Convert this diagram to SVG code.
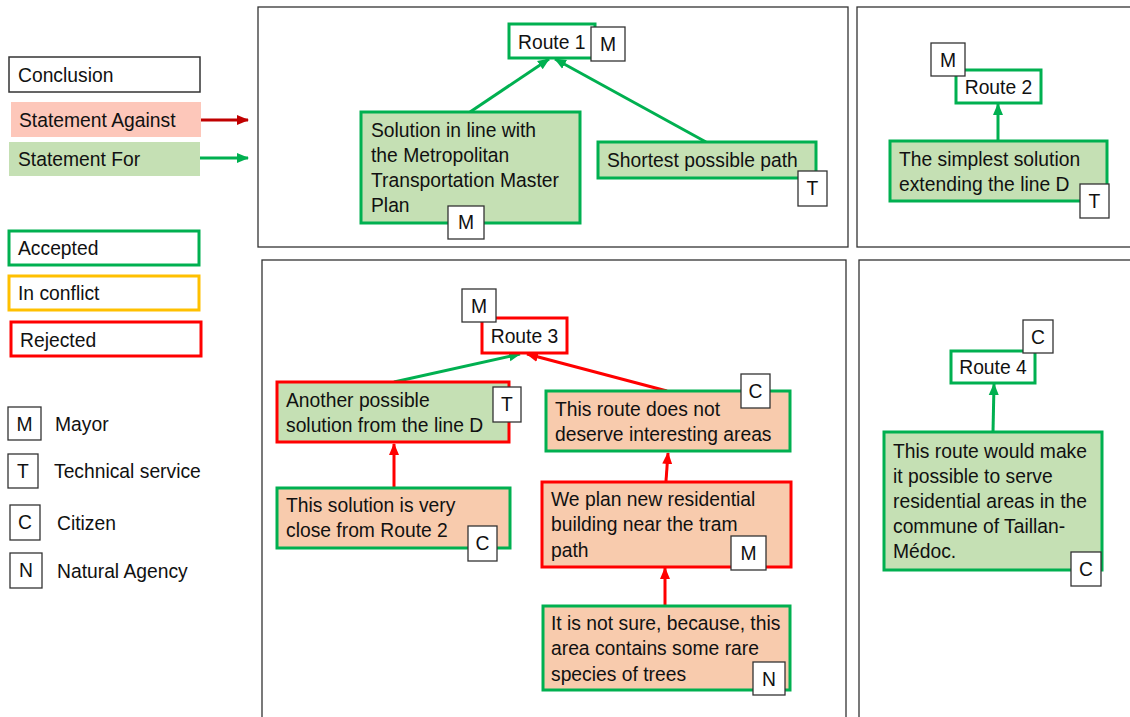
<svg xmlns="http://www.w3.org/2000/svg" width="1130" height="717" viewBox="0 0 1130 717">
<defs>
<style>
text{font-family:"Liberation Sans",Arial,sans-serif;font-size:19.3px;fill:#111}
.panel{fill:#fff;stroke:#333;stroke-width:1.3}
.concl{fill:#fff;stroke-width:3}
.acc{stroke:#00B050}
.rej{stroke:#FF0000}
.conf{stroke:#FFC000}
.for{fill:#C5E0B4}
.ag{fill:#F8CBAD}
.badge{fill:#fff;stroke:#333;stroke-width:1.3}
.bt{text-anchor:middle;dominant-baseline:central}
.mid{dominant-baseline:central}
.eg{stroke:#00B050;stroke-width:3;fill:none}
.er{stroke:#FF0000;stroke-width:3;fill:none}
</style>
<marker id="ag" markerUnits="userSpaceOnUse" markerWidth="12" markerHeight="12" viewBox="0 0 12 12" refX="11" refY="6" orient="auto"><path d="M0,1 L12,6 L0,11 Z" fill="#00B050"/></marker>
<marker id="ar" markerUnits="userSpaceOnUse" markerWidth="12" markerHeight="12" viewBox="0 0 12 12" refX="11" refY="6" orient="auto"><path d="M0,1 L12,6 L0,11 Z" fill="#FF0000"/></marker>
<marker id="adr" markerUnits="userSpaceOnUse" markerWidth="12" markerHeight="12" viewBox="0 0 12 12" refX="11" refY="6" orient="auto"><path d="M0,1 L12,6 L0,11 Z" fill="#C00000"/></marker>
</defs>
<rect width="1130" height="717" fill="#fff"/>

<!-- panels -->
<rect class="panel" x="258" y="7" width="590" height="240"/>
<rect class="panel" x="857" y="7" width="280" height="240"/>
<rect class="panel" x="262" y="260" width="584" height="470"/>
<rect class="panel" x="859" y="260" width="280" height="470"/>

<!-- legend -->
<g id="legend-conclusion"><rect x="9" y="57" width="191" height="35" fill="#fff" stroke="#333" stroke-width="1.5"/><text x="18" y="75" class="mid">Conclusion</text></g>
<g id="legend-against"><rect x="11" y="102" width="190" height="35" fill="#FDC7BA"/><text x="19" y="120" class="mid">Statement Against</text></g>
<g id="legend-for"><rect x="9" y="142" width="191" height="34" fill="#C5E0B4"/><text x="18" y="159" class="mid">Statement For</text></g>
<g id="legend-accepted"><rect x="9" y="231" width="190" height="34" class="concl acc"/><text x="18" y="248" class="mid">Accepted</text></g>
<g id="legend-conflict"><rect x="9" y="276" width="190" height="34" class="concl conf"/><text x="18" y="293" class="mid">In conflict</text></g>
<g id="legend-rejected"><rect x="11" y="322" width="190" height="34" class="concl rej"/><text x="20" y="340" class="mid">Rejected</text></g>
<g id="legend-mayor"><rect class="badge" x="8" y="407" width="33" height="33"/><text x="24.5" y="424" class="bt">M</text><text x="55" y="424" class="mid">Mayor</text></g>
<g id="legend-tech"><rect class="badge" x="8" y="454" width="30" height="34"/><text x="23" y="471" class="bt">T</text><text x="54" y="471" class="mid">Technical service</text></g>
<g id="legend-citizen"><rect class="badge" x="10" y="505" width="30" height="35"/><text x="25" y="522.5" class="bt">C</text><text x="57" y="523" class="mid">Citizen</text></g>
<g id="legend-natural"><rect class="badge" x="10" y="553" width="32" height="35"/><text x="26" y="570.5" class="bt">N</text><text x="57" y="571" class="mid">Natural Agency</text></g>

<!-- connectors -->
<g id="connectors">
<line x1="201" y1="120" x2="248" y2="120" stroke="#C00000" stroke-width="3" marker-end="url(#adr)"/>
<line x1="200" y1="158" x2="248" y2="158" class="eg" marker-end="url(#ag)"/>
<line x1="470" y1="112" x2="549" y2="59" class="eg" marker-end="url(#ag)"/>
<line x1="706" y1="142" x2="555" y2="59" class="eg" marker-end="url(#ag)"/>
<line x1="998" y1="141" x2="998" y2="104" class="eg" marker-end="url(#ag)"/>
<line x1="394" y1="382" x2="520" y2="354" class="eg" marker-end="url(#ag)"/>
<line x1="667" y1="391" x2="527" y2="354" class="er" marker-end="url(#ar)"/>
<line x1="394" y1="487" x2="394" y2="444" class="er" marker-end="url(#ar)"/>
<line x1="666" y1="481" x2="668" y2="453" class="er" marker-end="url(#ar)"/>
<line x1="665" y1="605" x2="665" y2="568" class="er" marker-end="url(#ar)"/>
<line x1="993" y1="432" x2="994" y2="384" class="eg" marker-end="url(#ag)"/>
</g>

<!-- Panel 1 -->
<g id="route1"><rect x="509" y="24" width="86" height="34" class="concl acc"/><text x="518" y="42" class="mid">Route 1</text></g>
<g id="route1-badge"><rect class="badge" x="591" y="27" width="34" height="34"/><text x="608" y="44" class="bt">M</text></g>
<g id="solution-metro"><rect x="361" y="112" width="219" height="111" class="for acc" stroke-width="3"/>
<text x="371" y="130" class="mid">Solution in line with</text><text x="371" y="155" class="mid">the Metropolitan</text><text x="371" y="180" class="mid">Transportation Master</text><text x="371" y="205" class="mid">Plan</text></g>
<g id="solution-metro-badge"><rect class="badge" x="448" y="206" width="36" height="33"/><text x="466" y="222.5" class="bt">M</text></g>
<g id="shortest"><rect x="598" y="142" width="218" height="36" class="for acc" stroke-width="3"/><text x="607" y="160" class="mid">Shortest possible path</text></g>
<g id="shortest-badge"><rect class="badge" x="798" y="171" width="29" height="35"/><text x="812.5" y="188.5" class="bt">T</text></g>

<!-- Panel 2 -->
<g id="route2"><rect x="956" y="70" width="85" height="33" class="concl acc"/><text x="998.5" y="87" class="bt">Route 2</text></g>
<g id="route2-badge"><rect class="badge" x="931" y="43" width="34" height="33"/><text x="948" y="60" class="bt">M</text></g>
<g id="simplest"><rect x="890" y="141" width="217" height="60" class="for acc" stroke-width="3"/><text x="899" y="159" class="mid">The simplest solution</text><text x="899" y="184" class="mid">extending the line D</text></g>
<g id="simplest-badge"><rect class="badge" x="1080" y="184" width="29" height="34"/><text x="1094.5" y="201" class="bt">T</text></g>

<!-- Panel 3 -->
<g id="route3"><rect x="482" y="318" width="85" height="35" class="concl rej"/><text x="524.5" y="336" class="bt">Route 3</text></g>
<g id="route3-badge"><rect class="badge" x="462" y="289" width="34" height="33"/><text x="479" y="306" class="bt">M</text></g>
<g id="another"><rect x="277" y="382" width="232" height="60" class="for rej" stroke-width="3"/><text x="286" y="400" class="mid">Another possible</text><text x="286" y="425" class="mid">solution from the line D</text></g>
<g id="another-badge"><rect class="badge" x="493" y="387" width="28" height="35"/><text x="507" y="404.5" class="bt">T</text></g>
<g id="not-deserve"><rect x="546" y="391" width="244" height="60" class="ag acc" stroke-width="3"/><text x="555" y="409" class="mid">This route does not</text><text x="555" y="434" class="mid">deserve interesting areas</text></g>
<g id="not-deserve-badge"><rect class="badge" x="741" y="374" width="29" height="34"/><text x="755.5" y="391" class="bt">C</text></g>
<g id="close-route2"><rect x="277" y="488" width="233" height="60" class="ag acc" stroke-width="3"/><text x="286" y="505" class="mid">This solution is very</text><text x="286" y="530" class="mid">close from Route 2</text></g>
<g id="close-route2-badge"><rect class="badge" x="468" y="526" width="29" height="35"/><text x="482.5" y="543.5" class="bt">C</text></g>
<g id="residential"><rect x="542" y="482" width="249" height="85" class="ag rej" stroke-width="3"/><text x="551" y="499" class="mid">We plan new residential</text><text x="551" y="524" class="mid">building near the tram</text><text x="551" y="550" class="mid">path</text></g>
<g id="residential-badge"><rect class="badge" x="731" y="536" width="35" height="34"/><text x="748.5" y="553" class="bt">M</text></g>
<g id="trees"><rect x="543" y="606" width="247" height="84" class="ag acc" stroke-width="3"/><text x="551" y="623" class="mid">It is not sure, because, this</text><text x="551" y="648" class="mid">area contains some rare</text><text x="551" y="674" class="mid">species of trees</text></g>
<g id="trees-badge"><rect class="badge" x="753" y="662" width="32" height="33"/><text x="769" y="679" class="bt">N</text></g>

<!-- Panel 4 -->
<g id="route4"><rect x="951" y="351" width="84" height="32" class="concl acc"/><text x="993" y="367" class="bt">Route 4</text></g>
<g id="route4-badge"><rect class="badge" x="1023" y="320" width="30" height="33"/><text x="1038" y="337" class="bt">C</text></g>
<g id="taillan"><rect x="884" y="432" width="218" height="138" class="for acc" stroke-width="3"/><text x="893" y="451" class="mid">This route would make</text><text x="893" y="476" class="mid">it possible to serve</text><text x="893" y="501" class="mid">residential areas in the</text><text x="893" y="526" class="mid">commune of Taillan-</text><text x="893" y="551" class="mid">Médoc.</text></g>
<g id="taillan-badge"><rect class="badge" x="1071" y="552" width="30" height="34"/><text x="1086" y="569" class="bt">C</text></g>
</svg>
